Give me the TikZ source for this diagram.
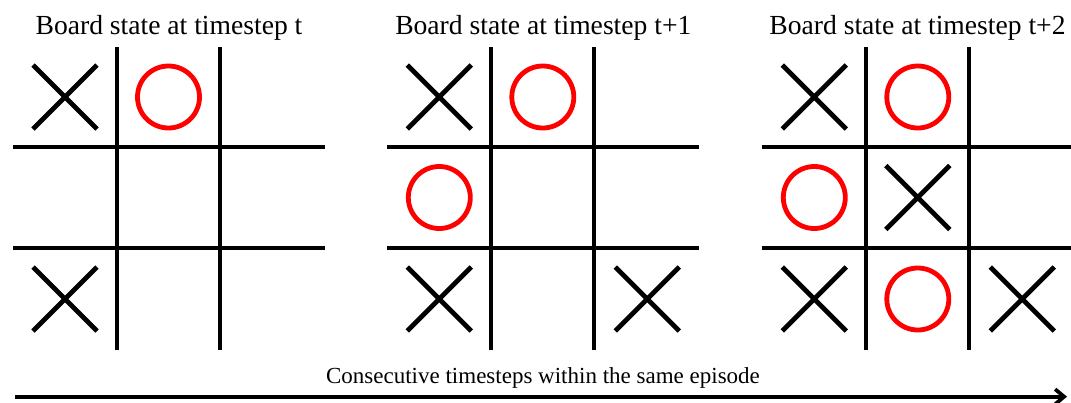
\documentclass[tikz,border=0pt]{standalone}
\usepackage{fontspec}
\setmainfont{Liberation Serif}
\usetikzlibrary{shapes.misc,arrows.meta}
\begin{document}
\begin{tikzpicture}[x=1pt,y=-1pt,
  gridline/.style={line width=3.7pt, black},
  xmark/.style={cross out, draw=black, line width=4.8pt, minimum size=64pt, inner sep=0pt, outer sep=0pt},
  omark/.style={circle, draw=red, line width=4.8pt, minimum size=62pt, inner sep=0pt, outer sep=0pt},
  titletext/.style={anchor=base, font=\fontsize{27.6}{30}\selectfont, inner sep=0pt},
  captiontext/.style={anchor=base, font=\fontsize{23}{26}\selectfont, inner sep=0pt},
  timeline/.style={line width=3.7pt, -{Straight Barb[length=9pt,width=15pt]}}
]
\useasboundingbox (0,0) rectangle (1071,402);

% grids
\foreach \ox in {13,387.3,762.3}{
  \draw[gridline] (\ox+103.7,47) -- (\ox+103.7,350);
  \draw[gridline] (\ox+207,47) -- (\ox+207,350);
  \draw[gridline] (\ox,147) -- (\ox+312,147);
  \draw[gridline] (\ox,248) -- (\ox+312,248);
}

% titles
\node[titletext] (t1) at (169,34) {Board state at timestep t};
\node[titletext] (t2) at (543.3,34) {Board state at timestep t+1};
\node[titletext] (t3) at (917.5,34) {Board state at timestep t+2};

% marks
\foreach \nm/\x/\y/\s in {
  a11/65/97/xmark, a12/168.5/97/omark, a31/65/299/xmark,
  b11/439.3/97/xmark, b12/542.8/97/omark, b21/439.3/197.5/omark,
  b31/439.3/299/xmark, b33/647.3/299/xmark,
  c11/814.3/97/xmark, c12/917.8/97/omark, c21/814.3/197.5/omark,
  c22/917.8/197.5/xmark, c31/814.3/299/xmark, c32/917.8/299/omark,
  c33/1022.3/299/xmark}
  \node[\s] (\nm) at (\x,\y) {};

% timeline
\coordinate (tstart) at (15,396.7);
\coordinate (tend) at (1067,396.7);
\draw[timeline] (tstart) -- (tend);
\node[captiontext] (cap) at (543,383.3) {Consecutive timesteps within the same episode};
\end{tikzpicture}
\end{document}
